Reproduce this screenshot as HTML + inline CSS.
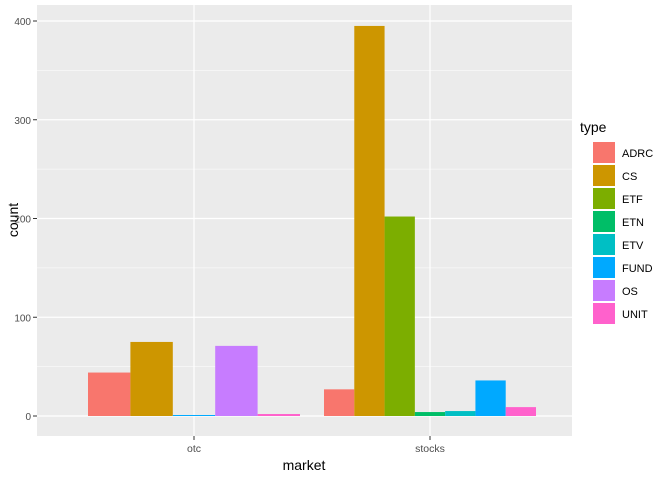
<!DOCTYPE html>
<html><head><meta charset="utf-8"><style>
body{margin:0;background:#fff;font-family:"Liberation Sans",Arial,sans-serif}
svg text{font-family:"Liberation Sans",Arial,sans-serif}
</style></head><body>
<svg id="c" width="672" height="480"></svg>
<script>
const markets=["otc","stocks"];
const types=["ADRC","CS","ETF","ETN","ETV","FUND","OS","UNIT"];
const colors=["#F8766D","#CD9600","#7CAE00","#00BE67","#00BFC4","#00A9FF","#C77CFF","#FF61CC"];
const otcTypes=["ADRC","CS","FUND","OS","UNIT"];
const otcValues=[44,75,1,71,2];
const stocksTypes=["ADRC","CS","ETF","ETN","ETV","FUND","UNIT"];
const stocksValues=[27,395,202,4,5,36,9];
const yTicks=[0,100,200,300,400];

const NS="http://www.w3.org/2000/svg";
const svg=document.getElementById('c');
function mk(t,a,p){const e=document.createElementNS(NS,t);for(const k in a)e.setAttribute(k,a[k]);(p||svg).appendChild(e);return e;}
const L=37,R=572,T=5,B=436;
const y=v=>416-v*0.9875;
const x=i=>194+i*236;
const groupW=212;
const bg=mk('rect',{x:L,y:T,width:R-L,height:B-T,fill:'#EBEBEB'});

for(let i=0;i<yTicks.length-1;i++){const v=(yTicks[i]+yTicks[i+1])/2;mk('line',{x1:L,x2:R,y1:y(v),y2:y(v),stroke:'#fff','stroke-width':0.6});}
yTicks.forEach(v=>{mk('line',{x1:L,x2:R,y1:y(v),y2:y(v),stroke:'#fff','stroke-width':1.2});
 mk('line',{x1:33,x2:37,y1:y(v),y2:y(v),stroke:'#333'});
 const t=mk('text',{x:31,y:y(v)+4,'text-anchor':'end','font-size':10,fill:'#4D4D4D'});t.textContent=v;
 });
markets.forEach((m,i)=>{mk('line',{x1:x(i),x2:x(i),y1:T,y2:B,stroke:'#fff','stroke-width':1.2});
 mk('line',{x1:x(i),x2:x(i),y1:B,y2:B+4,stroke:'#333'});
 const t=mk('text',{x:x(i),y:452,'text-anchor':'middle','font-size':10.5,fill:'#4D4D4D'});t.textContent=m;
 });
[[otcTypes,otcValues],[stocksTypes,stocksValues]].forEach(([ts,vs],gi)=>{
 const w=groupW/ts.length,x0=x(gi)-groupW/2;
 ts.forEach((tp,j)=>{const r=mk('rect',{x:x0+j*w,y:y(vs[j]),width:w,height:y(0)-y(vs[j]),fill:colors[types.indexOf(tp)]});
  
  });
});
let t=mk('text',{x:304,y:470,'text-anchor':'middle','font-size':14,fill:'#000'});t.textContent='market';

t=mk('text',{x:18,y:220,'text-anchor':'middle','font-size':14,fill:'#000',transform:'rotate(-90 18 220)'});t.textContent='count';

t=mk('text',{x:580,y:132,'font-size':14,fill:'#000'});t.textContent='type';

types.forEach((tp,i)=>{const yy=141+i*23;
 const g=mk('g',{});
 mk('rect',{x:593,y:yy+1,width:22,height:21,fill:colors[i]},g);
 const l=mk('text',{x:622,y:yy+16,'font-size':11,fill:'#000'},g);l.textContent=tp;});
</script></body></html>
